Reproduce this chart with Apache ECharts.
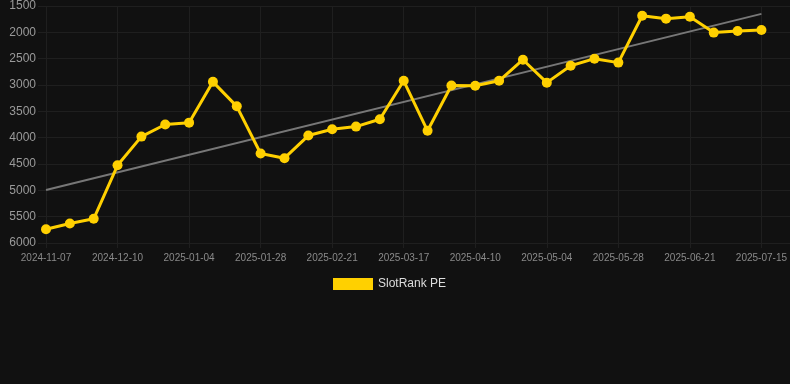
<!DOCTYPE html>
<html>
<head>
<meta charset="utf-8">
<script src="https://cdn.jsdelivr.net/npm/echarts@6/dist/echarts.min.js"></script>
<style>
  html, body { margin: 0; padding: 0; background: #111111; }
  #chart { width: 790px; height: 384px; }
</style>
</head>
<body>
<div id="chart"></div>
<script>
const dates = [
  '2024-11-07', '2024-11-18', '2024-11-29', '2024-12-10', '2024-12-18', '2024-12-27',
  '2025-01-04', '2025-01-12', '2025-01-20', '2025-01-28', '2025-02-05', '2025-02-13',
  '2025-02-21', '2025-03-01', '2025-03-09', '2025-03-17', '2025-03-25', '2025-04-02',
  '2025-04-10', '2025-04-18', '2025-04-26', '2025-05-04', '2025-05-12', '2025-05-20',
  '2025-05-28', '2025-06-05', '2025-06-13', '2025-06-21', '2025-06-29', '2025-07-07',
  '2025-07-15'
];
const peRank = [
  5740, 5630, 5540, 4525, 3980, 3750, 3715, 2940, 3405, 4300, 4390, 3960,
  3840, 3790, 3650, 2920, 3870, 3010, 3015, 2920, 2520, 2955, 2635, 2500,
  2575, 1685, 1740, 1705, 2005, 1975, 1955
];
// trend line end points (first and last date)
const trendEnds = [4995, 1650];
const yTicks = [1500, 6000, 500];

const chart = echarts.init(document.getElementById('chart'));

const gridColor = '#1f1f1f';

chart.setOption({
  backgroundColor: '#111111',
  animation: false,
  textStyle: { fontFamily: 'Liberation Sans, Arial, sans-serif' },
  grid: [
    { left: 38, right: 0, top: 6, bottom: 141 },
    { left: 46, right: 28, top: 6, bottom: 141 }
  ],
  legend: {
    data: ['SlotRank PE'],
    top: 278,
    left: 333,
    padding: 0,
    icon: 'rect',
    itemWidth: 40,
    itemHeight: 12,
    itemGap: 10,
    textStyle: { color: '#dddddd', fontSize: 12 }
  },
  xAxis: [
    {
      gridIndex: 0,
      type: 'category',
      data: dates,
      show: false
    },
    {
      gridIndex: 1,
      type: 'category',
      data: dates,
      boundaryGap: false,
      axisLine: { show: false },
      axisTick: {
        show: true,
        interval: 2,
        length: 5,
        lineStyle: { color: gridColor }
      },
      axisLabel: {
        interval: 2,
        color: '#8a8a8a',
        fontSize: 10,
        margin: 10
      },
      splitLine: {
        show: true,
        interval: 2,
        lineStyle: { color: gridColor, width: 1 }
      }
    }
  ],
  yAxis: [
    {
      gridIndex: 0,
      type: 'value',
      inverse: true,
      min: yTicks[0],
      max: yTicks[1],
      interval: yTicks[2],
      axisLine: { show: false },
      axisTick: { show: false },
      axisLabel: {
        color: '#9a9a9a',
        fontSize: 12,
        margin: 2,
        formatter: (v) => String(v)
      },
      splitLine: { lineStyle: { color: gridColor, width: 1 } }
    },
    {
      gridIndex: 1,
      type: 'value',
      inverse: true,
      min: yTicks[0],
      max: yTicks[1],
      interval: yTicks[2],
      show: false
    }
  ],
  series: [
    {
      name: 'Trend',
      type: 'line',
      xAxisIndex: 1,
      yAxisIndex: 1,
      data: [[dates[0], trendEnds[0]], [dates[dates.length - 1], trendEnds[1]]],
      showSymbol: false,
      silent: true,
      lineStyle: { color: '#777777', width: 2 },
      z: 2
    },
    {
      name: 'SlotRank PE',
      type: 'line',
      xAxisIndex: 1,
      yAxisIndex: 1,
      data: peRank,
      symbol: 'circle',
      symbolSize: 10,
      lineStyle: { color: '#ffd000', width: 3 },
      itemStyle: { color: '#ffd000' },
      z: 3
    }
  ]
});
</script>
</body>
</html>
